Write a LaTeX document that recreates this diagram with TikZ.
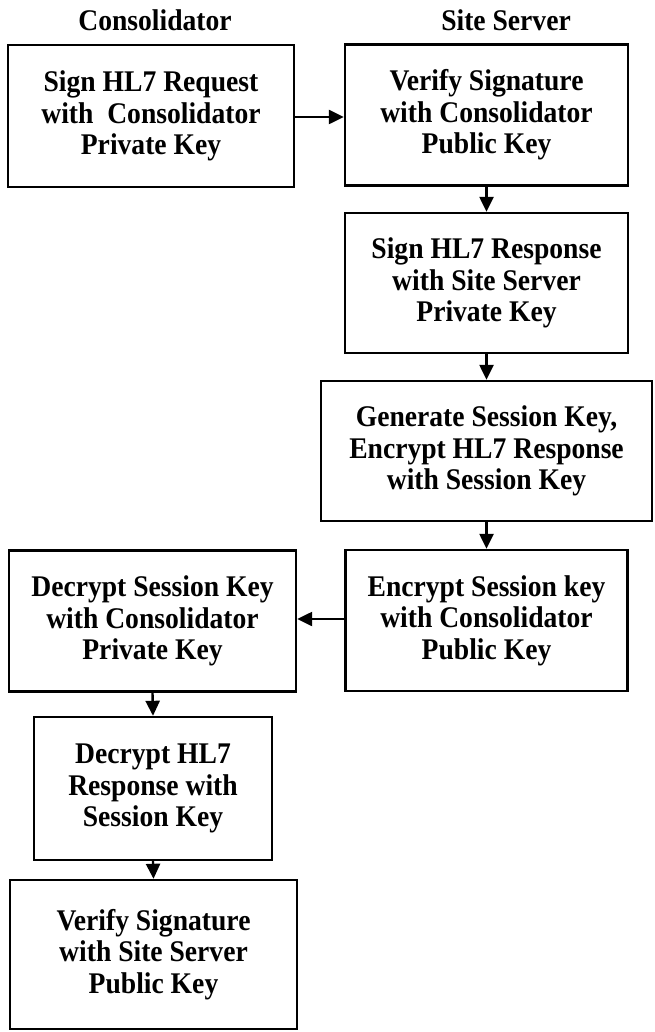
\documentclass[tikz,border=0pt]{standalone}
\usepackage{fontspec}
\setmainfont{Liberation Serif}
\newfontfamily\boxfont[FakeStretch=0.92]{Liberation Serif}
\usetikzlibrary{arrows.meta}
\begin{document}
\begin{tikzpicture}[x=1pt,y=1pt,
  stepbox/.style={draw=black, line width=2.4pt, align=center, inner sep=0pt,
    font=\boxfont\bfseries\fontsize{30}{31.5}\selectfont},
  hdr/.style={font=\boxfont\bfseries\fontsize{30}{31.5}\selectfont, inner sep=0pt},
  conn/.style={line width=2.4pt, -{Triangle[length=15pt,width=14pt]}}]
\useasboundingbox (0,0) rectangle (655,-1032);
\node[hdr] (h1) at (155,-20) {Consolidator};
\node[hdr] (h2) at (506,-20) {Site Server};
\node[stepbox, minimum width=286pt, minimum height=142pt] (b1) at (151,-116)
  {Sign HL7 Request\\with\ \ Consolidator\\Private Key};
\node[stepbox, minimum width=283pt, minimum height=141pt] (b2) at (486.5,-115)
  {Verify Signature\\with Consolidator\\Public Key};
\node[stepbox, minimum width=283pt, minimum height=140pt] (b3) at (486.5,-283)
  {Sign HL7 Response\\with Site Server\\Private Key};
\node[stepbox, minimum width=331pt, minimum height=140pt] (b4) at (486.5,-451)
  {Generate Session Key,\\Encrypt HL7 Response\\with Session Key};
\node[stepbox, minimum width=282pt, minimum height=141pt] (b5) at (486.5,-620.5)
  {Encrypt Session key\\with Consolidator\\Public Key};
\node[stepbox, minimum width=287pt, minimum height=141pt] (b6) at (152.5,-621)
  {Decrypt Session Key\\with Consolidator\\Private Key};
\node[stepbox, minimum width=238pt, minimum height=143pt] (b7) at (153,-788.5)
  {Decrypt HL7\\Response with\\Session Key};
\node[stepbox, minimum width=287pt, minimum height=149pt] (b8) at (153.5,-954.5)
  {Verify Signature\\with Site Server\\Public Key};
\draw[conn] (b1.east |- 0,-117) -- (b2.west |- 0,-117);
\draw[conn] (b2.south) -- (b3.north);
\draw[conn] (b3.south) -- (b4.north);
\draw[conn] (b4.south) -- (b5.north);
\draw[conn] (b5.west |- 0,-619) -- (b6.east |- 0,-619);
\draw[conn] (b6.south) -- (b7.north);
\draw[conn] (b7.south) -- (b8.north);
\end{tikzpicture}
\end{document}
